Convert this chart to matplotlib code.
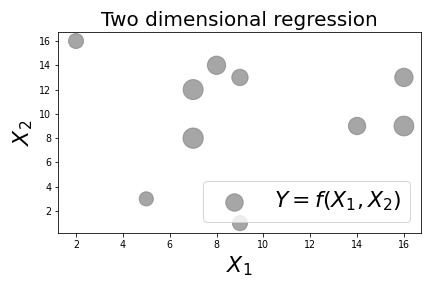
import matplotlib
matplotlib.use("Agg")
import matplotlib.pyplot as plt

x1 = [2, 7, 7, 8, 9, 5, 9, 14, 16, 16]
x2 = [16, 12, 8, 14, 13, 3, 1, 9, 13, 9]
sizes = [225, 400, 410, 335, 265, 200, 225, 300, 335, 390]

fig, ax = plt.subplots(figsize=(6, 4), dpi=72)
ax.scatter(x1, x2, s=sizes, c="gray", alpha=0.7, label=r"$Y = f(X_1, X_2)$")
ax.set_xlim(1.23, 16.73)
ax.set_ylim(0.19, 16.74)
ax.set_xticks([2, 4, 6, 8, 10, 12, 14, 16])
ax.set_yticks([2, 4, 6, 8, 10, 12, 14, 16])
ax.tick_params(labelsize=9.5)
ax.set_title("Two dimensional regression", fontsize=20)
ax.set_xlabel(r"$X_1$", fontsize=22)
ax.set_ylabel(r"$X_2$", fontsize=22)
ax.legend(loc="lower right", fontsize=22)
fig.subplots_adjust(left=58/432, right=421/432, top=1-32/288, bottom=1-233/288)
fig.savefig("out.png", dpi=72)
